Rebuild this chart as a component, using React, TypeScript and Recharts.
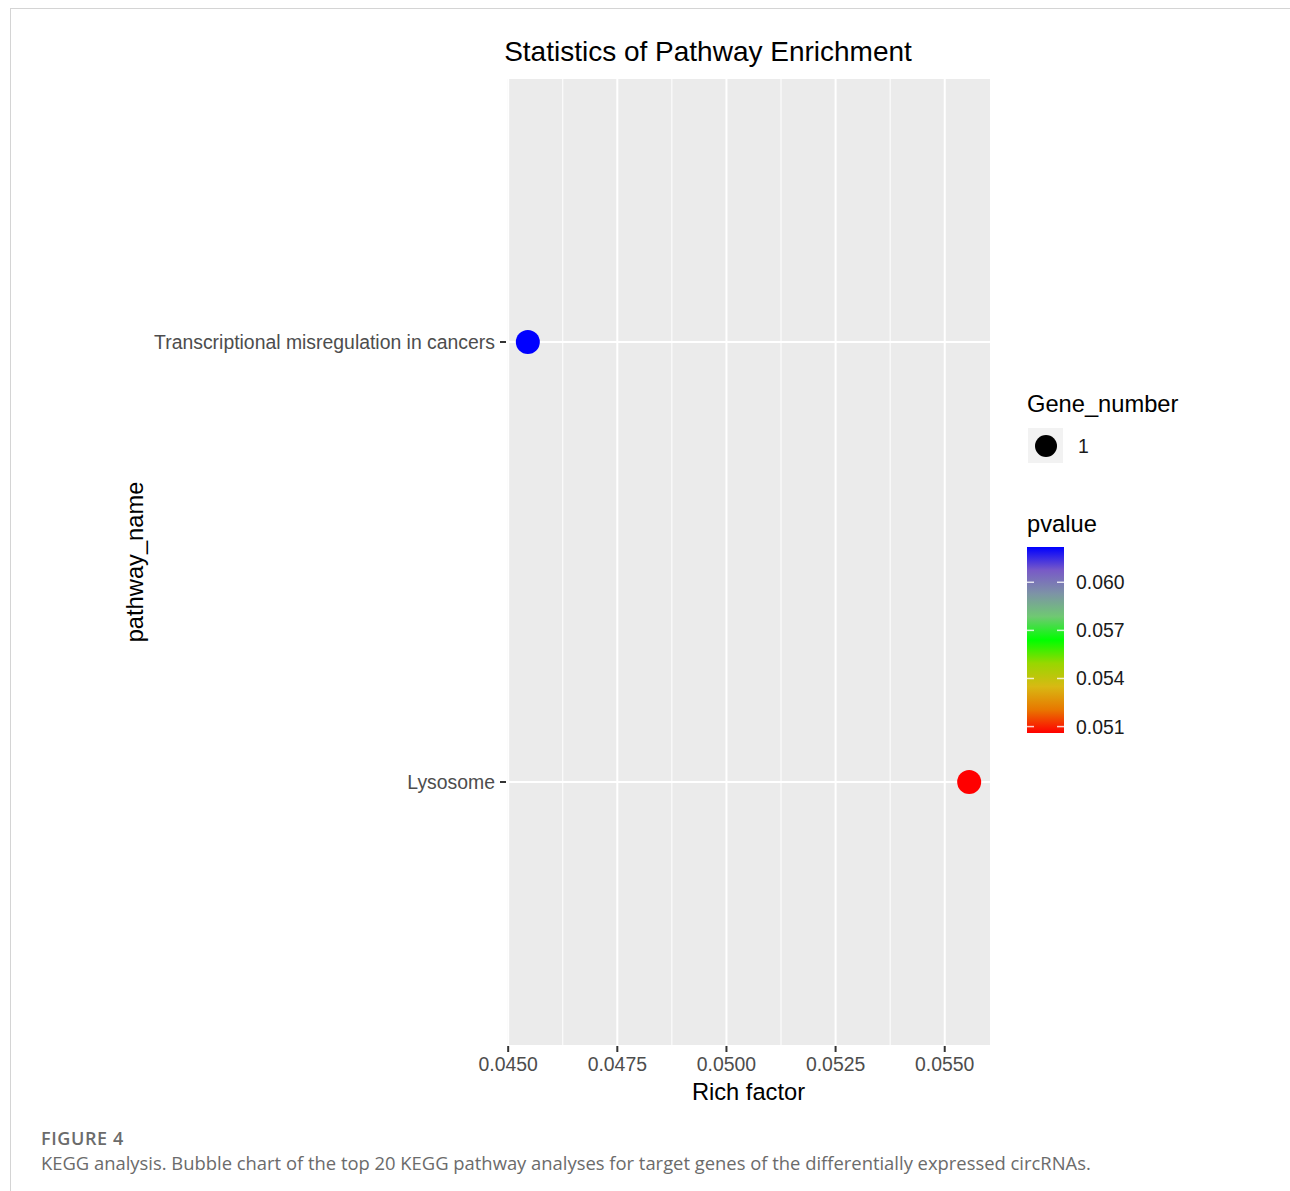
import { CartesianGrid, Cell, Legend, ReferenceLine, Scatter, ScatterChart, XAxis, YAxis } from "recharts"

// data
const pathways = ["Lysosome", "Transcriptional misregulation in cancers"]
const richFactor = [0.05556, 0.04545]
const pvalues = [0.0506, 0.0622]
const geneNumbers = [1, 1]

const xTicks = [0.045, 0.0475, 0.05, 0.0525, 0.055]
const xMinor = [0.04625, 0.04875, 0.05125, 0.05375]
const pvalueTicks = [0.051, 0.054, 0.057, 0.06]

const pMin = 0.0506
const pMax = 0.0622

// red -> green -> blue, roughly what ggplot gives in Lab space
const gradientStops = [
  { offset: 0, color: "#FF0000" },
  { offset: 0.125, color: "#E87700" },
  { offset: 0.25, color: "#D8B913" },
  { offset: 0.375, color: "#98D700" },
  { offset: 0.5, color: "#00FF00" },
  { offset: 0.625, color: "#6FC972" },
  { offset: 0.75, color: "#7D93A6" },
  { offset: 0.875, color: "#785AC7" },
  { offset: 1, color: "#0000FF" },
]

const rows = pathways.map((name, i) => ({
  name,
  rich: richFactor[i],
  pvalue: pvalues[i],
  genes: geneNumbers[i],
  y: i + 1,
}))

function hexToRgb(h: string) {
  return [parseInt(h.slice(1, 3), 16), parseInt(h.slice(3, 5), 16), parseInt(h.slice(5, 7), 16)]
}

function pColor(p: number) {
  const t = Math.max(0, Math.min(1, (p - pMin) / (pMax - pMin)))
  for (let i = 1; i < gradientStops.length; i++) {
    const a = gradientStops[i - 1]
    const b = gradientStops[i]
    if (t <= b.offset) {
      const f = (t - a.offset) / (b.offset - a.offset)
      const ca = hexToRgb(a.color)
      const cb = hexToRgb(b.color)
      const c = ca.map((v, k) => Math.round(v + (cb[k] - v) * f))
      return `rgb(${c[0]},${c[1]},${c[2]})`
    }
  }
  return gradientStops[gradientStops.length - 1].color
}

const font = "'Liberation Sans', Arial, Helvetica, sans-serif"
const tickFs = 19.4
const titleFs = 23.7

function LegendBox() {
  const barTop = 162
  const barH = 186
  const yOf = (p: number) => barTop + barH - ((p - pMin) / (pMax - pMin)) * barH
  return (
    <svg width={220} height={360} style={{ fontFamily: font }}>
      <defs>
        <linearGradient id="pgrad" x1="0" y1="1" x2="0" y2="0">
          {gradientStops.map((s) => (
            <stop key={s.offset} offset={s.offset} stopColor={s.color} />
          ))}
        </linearGradient>
      </defs>
      <text x={7} y={27} fontSize={titleFs} fill="#000">Gene_number</text>
      <rect x={8} y={43} width={35} height={35} fill="#F2F2F2" />
      <circle cx={26} cy={61} r={11} fill="#000" />
      <text x={58} y={68} fontSize={tickFs} fill="#1a1a1a">{geneNumbers[0]}</text>

      <text x={7} y={147} fontSize={titleFs} fill="#000">pvalue</text>
      <rect x={7} y={barTop} width={37} height={barH} fill="url(#pgrad)" />
      {pvalueTicks.map((p) => (
        <g key={p}>
          <line x1={7} x2={14} y1={yOf(p)} y2={yOf(p)} stroke="#fff" strokeOpacity={0.8} strokeWidth={1.5} />
          <line x1={37} x2={44} y1={yOf(p)} y2={yOf(p)} stroke="#fff" strokeOpacity={0.8} strokeWidth={1.5} />
          <text x={56} y={yOf(p) + 7} fontSize={tickFs} fill="#1a1a1a">{p.toFixed(3)}</text>
        </g>
      ))}
    </svg>
  )
}

export default function App() {
  return (
    <div style={{ position: "absolute", left: 0, top: 0, width: 1290, height: 1191, background: "#fff", fontFamily: font }}>
      <div style={{ position: "absolute", left: 10, top: 8, right: 0, bottom: 0, borderTop: "1px solid #d4d4d4", borderLeft: "1px solid #d4d4d4" }} />

      <div style={{ position: "absolute", left: 408, top: 34, width: 600, textAlign: "center", fontSize: 28, lineHeight: "36px", color: "#000" }}>
        Statistics of Pathway Enrichment
      </div>

      <div style={{ position: "absolute", left: 0, top: 0 }}>
        <ScatterChart width={1290} height={1191} margin={{ top: 78, right: 299, bottom: 85, left: 125 }}>
          <CartesianGrid fill="#EBEBEB" stroke="#fff" strokeWidth={2} />
          {xMinor.map((v) => (
            <ReferenceLine key={v} x={v} stroke="#fff" strokeWidth={1} />
          ))}
          <XAxis
            type="number"
            dataKey="rich"
            domain={[0.04495, 0.05606]}
            allowDataOverflow
            ticks={xTicks}
            tickFormatter={(v: number) => v.toFixed(4)}
            axisLine={false}
            tickLine={{ stroke: "#333", strokeWidth: 2 }}
            tickSize={6}
            tickMargin={5}
            height={60}
            tick={{ fill: "#4d4d4d", fontSize: tickFs, fontFamily: font }}
            label={{ value: "Rich factor", position: "insideBottom", offset: 6, fill: "#000", fontSize: titleFs, fontFamily: font }}
          />
          <YAxis
            type="number"
            dataKey="y"
            domain={[0.4, 2.6]}
            ticks={[1, 2]}
            tickFormatter={(v: number) => pathways[v - 1] ?? ""}
            axisLine={false}
            tickLine={{ stroke: "#333", strokeWidth: 2 }}
            tickSize={6}
            tickMargin={5}
            width={381}
            tick={{ fill: "#4d4d4d", fontSize: tickFs, fontFamily: font }}
            label={{
              value: "pathway_name",
              angle: -90,
              position: "insideLeft",
              offset: 10,
              fill: "#000",
              fontSize: titleFs,
              fontFamily: font,
              style: { textAnchor: "middle" },
            }}
          />
          <Scatter
            data={rows}
            isAnimationActive={false}
            shape={(props: any) => <circle cx={props.cx} cy={props.cy} r={12} fill={props.fill} />}
          >
            {rows.map((r) => (
              <Cell key={r.name} fill={pColor(r.pvalue)} />
            ))}
          </Scatter>
          <Legend
            layout="vertical"
            align="center"
            verticalAlign="middle"
            content={() => <LegendBox />}
            wrapperStyle={{ left: 1020, top: 385, width: 220, height: 360 }}
          />
        </ScatterChart>
      </div>

      <div style={{ position: "absolute", left: 41, top: 1126, fontFamily: "'Open Sans', sans-serif", fontSize: 18, fontWeight: 600, letterSpacing: 0.6, color: "#6b6b6b" }}>
        FIGURE 4
      </div>
      <div style={{ position: "absolute", left: 41, top: 1150, fontFamily: "'Open Sans', sans-serif", fontSize: 18.4, color: "#6b6b6b" }}>
        KEGG analysis. Bubble chart of the top 20 KEGG pathway analyses for target genes of the differentially expressed circRNAs.
      </div>
    </div>
  )
}
